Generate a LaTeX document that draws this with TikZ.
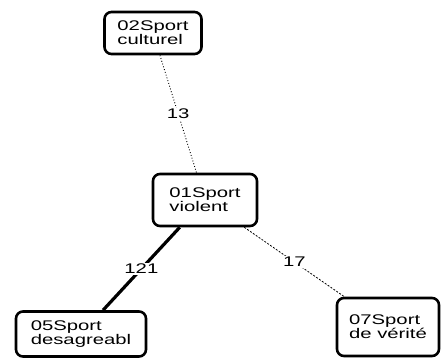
\documentclass[tikz,border=0pt]{standalone}
\usepackage{fontspec}
\setmainfont{Liberation Sans}
\newfontfamily\boxfont[FakeStretch=1.45]{Liberation Sans}
\tikzset{
    every node/.style={font=\boxfont\fontsize{14}{12.5}\selectfont}
}
\tikzset{sport/.style={draw, rounded corners=7pt, line width=2.6pt, fill=white, align=left, inner sep=0mm}}
\tikzset{count/.style={fill=white, inner sep=1pt}}

\begin{document}
\begin{tikzpicture}[x=1pt, y=-1pt]
    \useasboundingbox (0,0) rectangle (442,362);
    \node (s2) [sport, minimum width=97pt, minimum height=42pt] at (153,33) {02Sport\\culturel};
    \node (s1) [sport, minimum width=104pt, minimum height=52pt] at (205,200) {01Sport\\violent};
    \node (s5) [sport, minimum width=130pt, minimum height=45pt] at (81,334) {05Sport\\desagreabl};
    \node (s7) [sport, minimum width=102pt, minimum height=58pt] at (388,327) {07Sport\\de vérité};

  \draw (s2) edge [dotted, line width=0.9pt] node [count] {13} (s1);
  \draw (s1) edge [line width=3.2pt] node [count] {121} (s5);
  \draw (s1) edge [dash pattern=on 2pt off 1.5pt, line width=0.8pt] node [count] {17} (s7);
\end{tikzpicture}
\end{document}
